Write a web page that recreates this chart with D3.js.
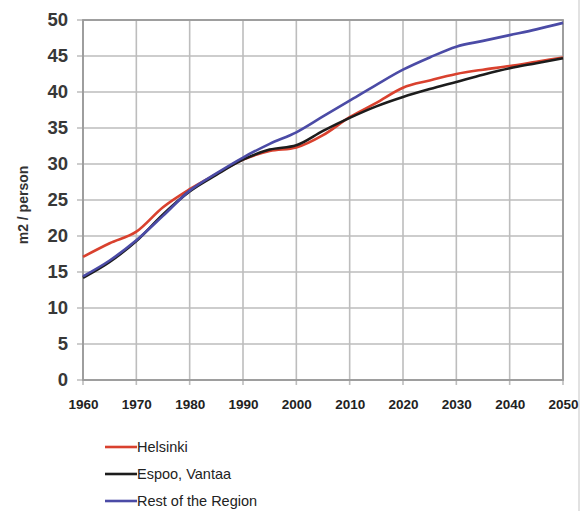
<!DOCTYPE html>
<html>
<head>
<meta charset="utf-8">
<script src="https://cdn.jsdelivr.net/npm/d3@7/dist/d3.min.js"></script>
<style>
html,body{margin:0;padding:0;background:#fff;}
svg{display:block;}
</style>
</head>
<body>
<svg id="chart" width="582" height="511"></svg>
<script>
const years = [1960,1965,1970,1975,1980,1985,1990,1995,2000,2005,2010,2015,2020,2025,2030,2035,2040,2045,2050];
const helsinki = [17.1,19.0,20.6,24.0,26.5,28.6,30.6,31.8,32.3,34.0,36.5,38.5,40.6,41.6,42.5,43.1,43.6,44.2,44.8];
const espooVantaa = [14.2,16.4,19.3,23.0,26.2,28.5,30.6,32.0,32.6,34.6,36.4,38.0,39.3,40.4,41.4,42.4,43.3,44.0,44.7];
const restOfRegion = [14.4,16.6,19.4,22.8,26.3,28.7,30.9,32.8,34.4,36.6,38.8,41.0,43.1,44.8,46.3,47.1,47.9,48.7,49.6];
const seriesNames = ["Helsinki","Espoo, Vantaa","Rest of the Region"];
const seriesColors = ["#d9412e","#1c1c1c","#4b4ba6"];
const xTicks = [1960,1970,1980,1990,2000,2010,2020,2030,2040,2050];
const yTicks = [0,5,10,15,20,25,30,35,40,45,50];
const yTitle = "m2 / person";

const svg = d3.select("#chart");
const L = 83, R = 563, T = 20, B = 380;
const x = d3.scaleLinear().domain([1960,2050]).range([L,R]);
const y = d3.scaleLinear().domain([0,50]).range([B,T]);
const FONT = "Liberation Sans, Arial, sans-serif";

// faint right frame line
svg.append("line").attr("x1",579).attr("x2",579).attr("y1",0).attr("y2",511)
  .attr("stroke","#e2e2e2").attr("stroke-width",2);

// grid
const g = svg.append("g");
g.selectAll(".hg").data(yTicks).join("line")
  .attr("x1",L-6).attr("x2",R).attr("y1",d=>y(d)).attr("y2",d=>y(d))
  .attr("stroke","#bdbdbd").attr("stroke-width",1.6);
g.selectAll(".vg").data(xTicks).join("line")
  .attr("x1",d=>x(d)).attr("x2",d=>x(d)).attr("y1",T).attr("y2",B+5)
  .attr("stroke","#bdbdbd").attr("stroke-width",1.6);
// frame
svg.append("rect").attr("x",L).attr("y",T).attr("width",R-L).attr("height",B-T)
  .attr("fill","none").attr("stroke","#9a9a9a").attr("stroke-width",1.8);

// axes labels
const yAxis = d3.axisLeft(y).tickValues(yTicks).tickSize(0).tickPadding(15);
const ya = svg.append("g").attr("transform",`translate(${L},0)`).call(yAxis);
ya.select(".domain").remove();
ya.selectAll("text").attr("font-family",FONT)
  .attr("font-size",18.5).attr("font-weight","bold").attr("fill","#383838");

const xAxis = d3.axisBottom(x).tickValues(xTicks).tickFormat(d3.format("d")).tickSize(0).tickPadding(19);
const xa = svg.append("g").attr("transform",`translate(0,${B})`).call(xAxis);
xa.select(".domain").remove();
xa.selectAll("text").attr("font-family",FONT)
  .attr("font-size",13.5).attr("font-weight","bold").attr("fill","#222");

svg.append("text").attr("transform","translate(28,205) rotate(-90)")
  .attr("text-anchor","middle").attr("font-family",FONT)
  .attr("font-size",14).attr("font-weight","bold").attr("fill","#333").text(yTitle);

// lines
const seriesData = [helsinki, espooVantaa, restOfRegion];
const line = d3.line().x((d,i)=>x(years[i])).y(d=>y(d)).curve(d3.curveMonotoneX);
seriesData.forEach((s,k)=>{
  svg.append("path").datum(s).attr("d",line).attr("fill","none")
    .attr("stroke",seriesColors[k]).attr("stroke-width",2.6).attr("stroke-linejoin","round");
});

// legend
const leg = svg.append("g");
const legY = [447,474,501];
seriesNames.forEach((n,k)=>{
  leg.append("line").attr("x1",105).attr("x2",137).attr("y1",legY[k]).attr("y2",legY[k])
    .attr("stroke",seriesColors[k]).attr("stroke-width",2.6);
  leg.append("text").attr("x",137).attr("y",legY[k]+5)
    .attr("font-family",FONT).attr("font-size",14.5)
    .attr("fill","#222").text(n);
});
</script>
</body>
</html>
